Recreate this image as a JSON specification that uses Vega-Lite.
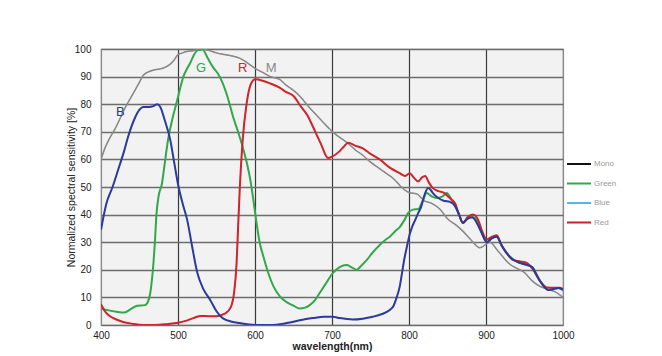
{
  "$schema": "https://vega.github.io/schema/vega-lite/v6.json",
  "width": 462,
  "height": 276,
  "autosize": "none",
  "padding": {"left": 101, "top": 49, "right": 99, "bottom": 31},
  "background": "white",
  "config": {
    "font": "Liberation Sans",
    "view": {"fill": "#f2f2f2", "stroke": "#8a8a8a", "strokeWidth": 1.2}
  },
  "datasets": {
    "curves": [
      {"s":"Mono","x":400,"y":60},{"s":"Mono","x":405,"y":64},{"s":"Mono","x":410,"y":67},{"s":"Mono","x":420,"y":72},{"s":"Mono","x":425,"y":75},{"s":"Mono","x":430,"y":78},{"s":"Mono","x":440,"y":83},{"s":"Mono","x":450,"y":88},{"s":"Mono","x":455,"y":90.5},{"s":"Mono","x":460,"y":91.5},{"s":"Mono","x":470,"y":92.5},{"s":"Mono","x":480,"y":93},{"s":"Mono","x":490,"y":94.5},{"s":"Mono","x":495,"y":96},{"s":"Mono","x":500,"y":98},{"s":"Mono","x":505,"y":98.5},{"s":"Mono","x":510,"y":99},{"s":"Mono","x":520,"y":99.4},{"s":"Mono","x":530,"y":100},{"s":"Mono","x":540,"y":99.5},{"s":"Mono","x":550,"y":98.6},{"s":"Mono","x":560,"y":98},{"s":"Mono","x":570,"y":97.5},{"s":"Mono","x":580,"y":96.7},{"s":"Mono","x":590,"y":95},{"s":"Mono","x":600,"y":93},{"s":"Mono","x":610,"y":91.5},{"s":"Mono","x":620,"y":90},{"s":"Mono","x":632,"y":89},{"s":"Mono","x":640,"y":87},{"s":"Mono","x":650,"y":85},{"s":"Mono","x":658,"y":83},{"s":"Mono","x":670,"y":79},{"s":"Mono","x":680,"y":76},{"s":"Mono","x":690,"y":73},{"s":"Mono","x":697,"y":71},{"s":"Mono","x":705,"y":69},{"s":"Mono","x":710,"y":68},{"s":"Mono","x":720,"y":66},{"s":"Mono","x":730,"y":63.5},{"s":"Mono","x":740,"y":61.5},{"s":"Mono","x":750,"y":59},{"s":"Mono","x":760,"y":57},{"s":"Mono","x":770,"y":55},{"s":"Mono","x":780,"y":53},{"s":"Mono","x":790,"y":50},{"s":"Mono","x":800,"y":48},{"s":"Mono","x":810,"y":47.5},{"s":"Mono","x":820,"y":45},{"s":"Mono","x":830,"y":44},{"s":"Mono","x":840,"y":42},{"s":"Mono","x":850,"y":38.5},{"s":"Mono","x":862,"y":36},{"s":"Mono","x":870,"y":34},{"s":"Mono","x":880,"y":31},{"s":"Mono","x":892,"y":28},{"s":"Mono","x":905,"y":30},{"s":"Mono","x":915,"y":27},{"s":"Mono","x":931,"y":22},{"s":"Mono","x":940,"y":20.5},{"s":"Mono","x":950,"y":19},{"s":"Mono","x":960,"y":16},{"s":"Mono","x":970,"y":14},{"s":"Mono","x":980,"y":13},{"s":"Mono","x":990,"y":12},{"s":"Mono","x":1000,"y":10},

      {"s":"Green","x":400,"y":6},{"s":"Green","x":410,"y":5.3},{"s":"Green","x":420,"y":4.8},{"s":"Green","x":430,"y":4.5},{"s":"Green","x":440,"y":6},{"s":"Green","x":447,"y":7},{"s":"Green","x":457,"y":7.2},{"s":"Green","x":461,"y":8.5},{"s":"Green","x":464,"y":11.6},{"s":"Green","x":466,"y":16},{"s":"Green","x":468,"y":22},{"s":"Green","x":470,"y":30},{"s":"Green","x":472,"y":40},{"s":"Green","x":475,"y":47},{"s":"Green","x":479,"y":51},{"s":"Green","x":483,"y":59},{"s":"Green","x":487,"y":67},{"s":"Green","x":493,"y":75},{"s":"Green","x":499,"y":81.5},{"s":"Green","x":503,"y":86},{"s":"Green","x":507,"y":90},{"s":"Green","x":512,"y":93},{"s":"Green","x":516,"y":95},{"s":"Green","x":521,"y":98},{"s":"Green","x":526,"y":99.6},{"s":"Green","x":532,"y":99.8},{"s":"Green","x":538,"y":97},{"s":"Green","x":545,"y":93.6},{"s":"Green","x":552,"y":91},{"s":"Green","x":558,"y":87.6},{"s":"Green","x":565,"y":82},{"s":"Green","x":572,"y":75},{"s":"Green","x":578,"y":70},{"s":"Green","x":584,"y":64.5},{"s":"Green","x":590,"y":58},{"s":"Green","x":594,"y":52.5},{"s":"Green","x":598,"y":45},{"s":"Green","x":602,"y":37},{"s":"Green","x":606,"y":30},{"s":"Green","x":611,"y":24.7},{"s":"Green","x":617,"y":19},{"s":"Green","x":624,"y":14},{"s":"Green","x":632,"y":10.5},{"s":"Green","x":641,"y":8.3},{"s":"Green","x":650,"y":7},{"s":"Green","x":658,"y":6},{"s":"Green","x":665,"y":6.3},{"s":"Green","x":671,"y":7.2},{"s":"Green","x":678,"y":9},{"s":"Green","x":684,"y":11.6},{"s":"Green","x":692,"y":15},{"s":"Green","x":701,"y":18.8},{"s":"Green","x":710,"y":21},{"s":"Green","x":719,"y":21.7},{"s":"Green","x":725,"y":21},{"s":"Green","x":732,"y":20},{"s":"Green","x":738,"y":21.5},{"s":"Green","x":745,"y":23.5},{"s":"Green","x":752,"y":26},{"s":"Green","x":762,"y":29},{"s":"Green","x":770,"y":31},{"s":"Green","x":775,"y":32},{"s":"Green","x":782,"y":34},{"s":"Green","x":788,"y":35.5},{"s":"Green","x":794,"y":38},{"s":"Green","x":799,"y":40.6},{"s":"Green","x":805,"y":41.8},{"s":"Green","x":812,"y":42},{"s":"Green","x":817,"y":44.5},{"s":"Green","x":823,"y":47.8},{"s":"Green","x":830,"y":46.5},{"s":"Green","x":836,"y":46},{"s":"Green","x":843,"y":46.5},{"s":"Green","x":849,"y":47.8},{"s":"Green","x":855,"y":45.5},{"s":"Green","x":860,"y":43},{"s":"Green","x":865,"y":40},{"s":"Green","x":870,"y":37},{"s":"Green","x":876,"y":38.5},{"s":"Green","x":883,"y":39},{"s":"Green","x":890,"y":37},{"s":"Green","x":895,"y":33},{"s":"Green","x":901,"y":30},{"s":"Green","x":908,"y":31.5},{"s":"Green","x":914,"y":32},{"s":"Green","x":920,"y":29},{"s":"Green","x":927,"y":26},{"s":"Green","x":934,"y":24},{"s":"Green","x":940,"y":23},{"s":"Green","x":950,"y":22},{"s":"Green","x":960,"y":21},{"s":"Green","x":970,"y":16},{"s":"Green","x":981,"y":12.7},{"s":"Green","x":994,"y":13.4},{"s":"Green","x":1000,"y":12.7},

      {"s":"Red","x":400,"y":7.5},{"s":"Red","x":405,"y":5},{"s":"Red","x":410,"y":3.5},{"s":"Red","x":420,"y":2},{"s":"Red","x":430,"y":1},{"s":"Red","x":440,"y":0.5},{"s":"Red","x":455,"y":0},{"s":"Red","x":470,"y":0},{"s":"Red","x":485,"y":0.3},{"s":"Red","x":500,"y":0.8},{"s":"Red","x":510,"y":1.5},{"s":"Red","x":520,"y":2.5},{"s":"Red","x":530,"y":3.3},{"s":"Red","x":540,"y":3.2},{"s":"Red","x":550,"y":3.2},{"s":"Red","x":560,"y":4},{"s":"Red","x":565,"y":5},{"s":"Red","x":570,"y":7.5},{"s":"Red","x":573,"y":12},{"s":"Red","x":576,"y":22},{"s":"Red","x":578,"y":35},{"s":"Red","x":580,"y":48},{"s":"Red","x":584,"y":67},{"s":"Red","x":589,"y":80},{"s":"Red","x":593,"y":86},{"s":"Red","x":596,"y":88},{"s":"Red","x":600,"y":89},{"s":"Red","x":610,"y":88.5},{"s":"Red","x":620,"y":87.5},{"s":"Red","x":632,"y":86},{"s":"Red","x":640,"y":84.5},{"s":"Red","x":650,"y":83},{"s":"Red","x":660,"y":79},{"s":"Red","x":668,"y":76},{"s":"Red","x":675,"y":72},{"s":"Red","x":685,"y":66},{"s":"Red","x":695,"y":60.5},{"s":"Red","x":700,"y":61},{"s":"Red","x":710,"y":63},{"s":"Red","x":715,"y":64.5},{"s":"Red","x":721,"y":66},{"s":"Red","x":730,"y":65},{"s":"Red","x":740,"y":64},{"s":"Red","x":750,"y":62},{"s":"Red","x":762,"y":60},{"s":"Red","x":775,"y":57},{"s":"Red","x":788,"y":55},{"s":"Red","x":795,"y":54},{"s":"Red","x":801,"y":55},{"s":"Red","x":806,"y":53.5},{"s":"Red","x":812,"y":52},{"s":"Red","x":817,"y":53.5},{"s":"Red","x":821,"y":54},{"s":"Red","x":826,"y":51.5},{"s":"Red","x":831,"y":49.6},{"s":"Red","x":838,"y":48.5},{"s":"Red","x":845,"y":48},{"s":"Red","x":849,"y":47},{"s":"Red","x":855,"y":45.5},{"s":"Red","x":860,"y":44},{"s":"Red","x":865,"y":40},{"s":"Red","x":870,"y":37},{"s":"Red","x":876,"y":39},{"s":"Red","x":883,"y":40},{"s":"Red","x":890,"y":38},{"s":"Red","x":895,"y":34},{"s":"Red","x":901,"y":31},{"s":"Red","x":908,"y":32},{"s":"Red","x":914,"y":32.5},{"s":"Red","x":920,"y":29},{"s":"Red","x":927,"y":26},{"s":"Red","x":935,"y":23.5},{"s":"Red","x":945,"y":23},{"s":"Red","x":953,"y":22.5},{"s":"Red","x":960,"y":20.5},{"s":"Red","x":970,"y":16},{"s":"Red","x":979,"y":13.6},{"s":"Red","x":990,"y":13.5},{"s":"Red","x":996,"y":13.5},{"s":"Red","x":1000,"y":13},

      {"s":"Blue","x":400,"y":34.5},{"s":"Blue","x":407,"y":44},{"s":"Blue","x":415,"y":50},{"s":"Blue","x":422,"y":56},{"s":"Blue","x":430,"y":63},{"s":"Blue","x":435,"y":68},{"s":"Blue","x":444,"y":75},{"s":"Blue","x":450,"y":78},{"s":"Blue","x":455,"y":79},{"s":"Blue","x":462,"y":79},{"s":"Blue","x":468,"y":79.3},{"s":"Blue","x":473,"y":80},{"s":"Blue","x":477,"y":79},{"s":"Blue","x":483,"y":74},{"s":"Blue","x":490,"y":67},{"s":"Blue","x":495,"y":59},{"s":"Blue","x":500,"y":51},{"s":"Blue","x":506,"y":44},{"s":"Blue","x":512,"y":38},{"s":"Blue","x":518,"y":29},{"s":"Blue","x":525,"y":19},{"s":"Blue","x":533,"y":13},{"s":"Blue","x":542,"y":9},{"s":"Blue","x":550,"y":5},{"s":"Blue","x":558,"y":2.5},{"s":"Blue","x":570,"y":1.2},{"s":"Blue","x":580,"y":0.7},{"s":"Blue","x":592,"y":0.2},{"s":"Blue","x":603,"y":0},{"s":"Blue","x":620,"y":0},{"s":"Blue","x":641,"y":0.7},{"s":"Blue","x":660,"y":1.8},{"s":"Blue","x":675,"y":2.5},{"s":"Blue","x":690,"y":3},{"s":"Blue","x":701,"y":3},{"s":"Blue","x":710,"y":2.5},{"s":"Blue","x":727,"y":2},{"s":"Blue","x":740,"y":2.3},{"s":"Blue","x":753,"y":3},{"s":"Blue","x":765,"y":4},{"s":"Blue","x":775,"y":5.4},{"s":"Blue","x":780,"y":7},{"s":"Blue","x":784,"y":10},{"s":"Blue","x":788,"y":14},{"s":"Blue","x":791,"y":19},{"s":"Blue","x":794,"y":24},{"s":"Blue","x":797,"y":28},{"s":"Blue","x":801,"y":33},{"s":"Blue","x":804,"y":35.5},{"s":"Blue","x":808,"y":38},{"s":"Blue","x":812,"y":40.6},{"s":"Blue","x":816,"y":43},{"s":"Blue","x":819,"y":46},{"s":"Blue","x":822,"y":48.5},{"s":"Blue","x":825,"y":49.6},{"s":"Blue","x":828,"y":49},{"s":"Blue","x":831,"y":47.8},{"s":"Blue","x":838,"y":46},{"s":"Blue","x":845,"y":45},{"s":"Blue","x":853,"y":44.6},{"s":"Blue","x":860,"y":43},{"s":"Blue","x":865,"y":40},{"s":"Blue","x":870,"y":37},{"s":"Blue","x":876,"y":38.5},{"s":"Blue","x":882,"y":39},{"s":"Blue","x":888,"y":37},{"s":"Blue","x":895,"y":33},{"s":"Blue","x":901,"y":30},{"s":"Blue","x":908,"y":31.5},{"s":"Blue","x":914,"y":32},{"s":"Blue","x":920,"y":29},{"s":"Blue","x":927,"y":26},{"s":"Blue","x":934,"y":24},{"s":"Blue","x":940,"y":23},{"s":"Blue","x":950,"y":22},{"s":"Blue","x":960,"y":21},{"s":"Blue","x":965,"y":18.5},{"s":"Blue","x":970,"y":16},{"s":"Blue","x":975,"y":14},{"s":"Blue","x":981,"y":12.7},{"s":"Blue","x":988,"y":13},{"s":"Blue","x":994,"y":13.4},{"s":"Blue","x":1000,"y":12.7}
    ],
    "labels": [
      {"t":"B","x":425,"y":77,"c":"#2b3a9c"},
      {"t":"G","x":530,"y":93,"c":"#2fa34f"},
      {"t":"R","x":584,"y":93,"c":"#d1232b"},
      {"t":"M","x":621,"y":93,"c":"#8a8a8a"}
    ]
  },
  "encoding": {
    "x": {
      "field": "x", "type": "quantitative",
      "scale": {"domain": [400, 1000], "nice": false, "zero": false},
      "axis": {
        "values": [400, 500, 600, 700, 800, 900, 1000],
        "format": "d",
        "title": "wavelength(nm)",
        "titleFontSize": 10.5, "titleFontWeight": "bold", "titleColor": "#222", "titlePadding": 1,
        "labelFontSize": 10, "labelColor": "#222", "labelPadding": 5,
        "ticks": false, "domain": false, "labelFlush": false,
        "grid": true, "gridWidth": 1.2,
        "gridColor": {"condition": {"test": "datum.value == 400 || datum.value == 1000", "value": "#8a8a8a"}, "value": "#3a3a3a"}
      }
    },
    "y": {
      "field": "y", "type": "quantitative",
      "scale": {"domain": [0, 100], "nice": false},
      "axis": {
        "values": [0, 10, 20, 30, 40, 50, 60, 70, 80, 90, 100],
        "title": "Normalized spectral sensitivity [%]",
        "titleFontSize": 10.5, "titleFontWeight": "normal", "titleColor": "#222",
        "titleX": -25, "titleY": 138,
        "labelFontSize": 10, "labelColor": "#222", "labelPadding": 10,
        "ticks": false, "domain": false,
        "grid": true, "gridColor": "#6e6e6e", "gridWidth": 1.4
      }
    }
  },
  "layer": [
    {
      "data": {"name": "curves"},
      "mark": {"type": "line", "interpolate": "monotone", "clip": true},
      "encoding": {
        "stroke": {
          "field": "s", "type": "nominal",
          "scale": {"domain": ["Mono", "Green", "Blue", "Red"], "range": ["#111111", "#33a84a", "#5bb4e8", "#c8202a"]},
          "legend": {
            "title": null,
            "orient": "none",
            "legendX": 465,
            "legendY": 102,
            "symbolType": "stroke",
            "symbolSize": 576,
            "symbolStrokeWidth": 2,
            "labelFontSize": 8,
            "labelColor": "#9a9a9a",
            "labelOffset": 2,
            "rowPadding": 2.5,
            "padding": 0
          }
        },
        "strokeWidth": {"value": 0.4}
      }
    },
    {
      "data": {"name": "curves"},
      "mark": {"type": "line", "interpolate": "monotone", "clip": true},
      "encoding": {
        "color": {
          "field": "s", "type": "nominal",
          "scale": {"domain": ["Mono", "Green", "Blue", "Red"], "range": ["#8a8a8a", "#33a84a", "#2b3a9c", "#d1232b"]},
          "legend": null
        },
        "strokeWidth": {
          "condition": {"test": "datum.s == 'Mono'", "value": 1.5},
          "value": 2
        }
      }
    },
    {
      "data": {"name": "labels"},
      "mark": {"type": "text", "fontSize": 13, "align": "center", "baseline": "middle"},
      "encoding": {
        "text": {"field": "t"},
        "color": {"field": "c", "type": "nominal", "scale": null}
      }
    }
  ]
}
